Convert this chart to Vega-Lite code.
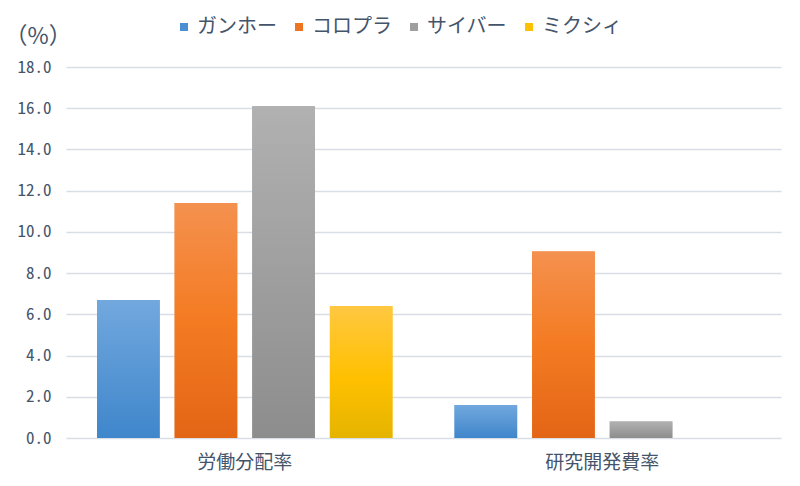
{
  "$schema": "https://vega.github.io/schema/vega-lite/v6.json",
  "width": 715,
  "height": 371,
  "autosize": {"type": "none"},
  "padding": {"left": 66, "top": 67, "right": 19, "bottom": 48},
  "background": "white",
  "config": {
    "font": "Noto Sans CJK JP",
    "view": {"stroke": null}
  },
  "data": {
    "values": [
      {"category": "労働分配率", "company": "ガンホー", "value": 6.7},
      {"category": "労働分配率", "company": "コロプラ", "value": 11.4},
      {"category": "労働分配率", "company": "サイバー", "value": 16.1},
      {"category": "労働分配率", "company": "ミクシィ", "value": 6.4},
      {"category": "研究開発費率", "company": "ガンホー", "value": 1.6},
      {"category": "研究開発費率", "company": "コロプラ", "value": 9.05},
      {"category": "研究開発費率", "company": "サイバー", "value": 0.8}
    ]
  },
  "encoding": {
    "x": {
      "field": "category",
      "type": "nominal",
      "sort": ["労働分配率", "研究開発費率"],
      "scale": {"paddingInner": 0, "paddingOuter": 0},
      "title": null,
      "axis": {
        "labelAngle": 0,
        "domain": false,
        "ticks": false,
        "labelPadding": 15,
        "labelFontSize": 19,
        "labelColor": "#44546a",
        "labelFont": "Noto Sans CJK JP"
      }
    },
    "xOffset": {
      "field": "company",
      "type": "nominal",
      "sort": ["ガンホー", "コロプラ", "サイバー", "ミクシィ"],
      "scale": {"paddingInner": 0.1935, "paddingOuter": 0.4}
    },
    "y": {
      "field": "value",
      "type": "quantitative",
      "scale": {"domain": [0, 18], "nice": false},
      "axis": {
        "values": [0, 2, 4, 6, 8, 10, 12, 14, 16, 18],
        "format": ".1f",
        "grid": true,
        "gridColor": "#d9dee6",
        "gridWidth": 1.5,
        "domain": false,
        "ticks": false,
        "labelPadding": 15,
        "labelFontSize": 17,
        "labelColor": "#44546a",
        "labelFont": "Noto Sans Mono CJK JP, Noto Sans CJK JP",
        "title": "（%）",
        "titleAngle": 0,
        "titleX": -62,
        "titleY": -31,
        "titleAlign": "left",
        "titleBaseline": "middle",
        "titleFontSize": 23,
        "titleFontWeight": "normal",
        "titleColor": "#44546a"
      }
    }
  },
  "layer": [
    {
      "mark": {"type": "bar"},
      "encoding": {
        "color": {
          "field": "company",
          "type": "nominal",
          "sort": ["ガンホー", "コロプラ", "サイバー", "ミクシィ"],
          "scale": {
            "domain": ["ガンホー", "コロプラ", "サイバー", "ミクシィ"],
            "range": ["#4a8fd2", "#ef7422", "#9f9f9f", "#ffc000"]
          },
          "legend": {
            "orient": "none",
            "legendX": 108,
            "legendY": -50,
            "direction": "horizontal",
            "title": null,
            "symbolType": "square",
            "symbolSize": 64,
            "symbolStrokeWidth": 0,
            "labelFontSize": 20,
            "labelColor": "#44546a",
            "labelOffset": 3,
            "columnPadding": 12
          }
        }
      }
    },
    {
      "mark": {"type": "bar"},
      "encoding": {
        "fill": {
          "condition": [
            {
              "test": "datum.company === 'ガンホー'",
              "value": {
                "gradient": "linear", "x1": 0, "y1": 0, "x2": 0, "y2": 1,
                "stops": [
                  {"offset": 0, "color": "#72a8de"},
                  {"offset": 1, "color": "#3f86cb"}
                ]
              }
            },
            {
              "test": "datum.company === 'コロプラ'",
              "value": {
                "gradient": "linear", "x1": 0, "y1": 0, "x2": 0, "y2": 1,
                "stops": [
                  {"offset": 0, "color": "#f4914f"},
                  {"offset": 0.5, "color": "#f47b22"},
                  {"offset": 1, "color": "#e36516"}
                ]
              }
            },
            {
              "test": "datum.company === 'サイバー'",
              "value": {
                "gradient": "linear", "x1": 0, "y1": 0, "x2": 0, "y2": 1,
                "stops": [
                  {"offset": 0, "color": "#b1b1b1"},
                  {"offset": 1, "color": "#8d8d8d"}
                ]
              }
            }
          ],
          "value": {
            "gradient": "linear", "x1": 0, "y1": 0, "x2": 0, "y2": 1,
            "stops": [
              {"offset": 0, "color": "#ffc841"},
              {"offset": 0.55, "color": "#ffc000"},
              {"offset": 1, "color": "#e5b400"}
            ]
          }
        }
      }
    }
  ]
}
